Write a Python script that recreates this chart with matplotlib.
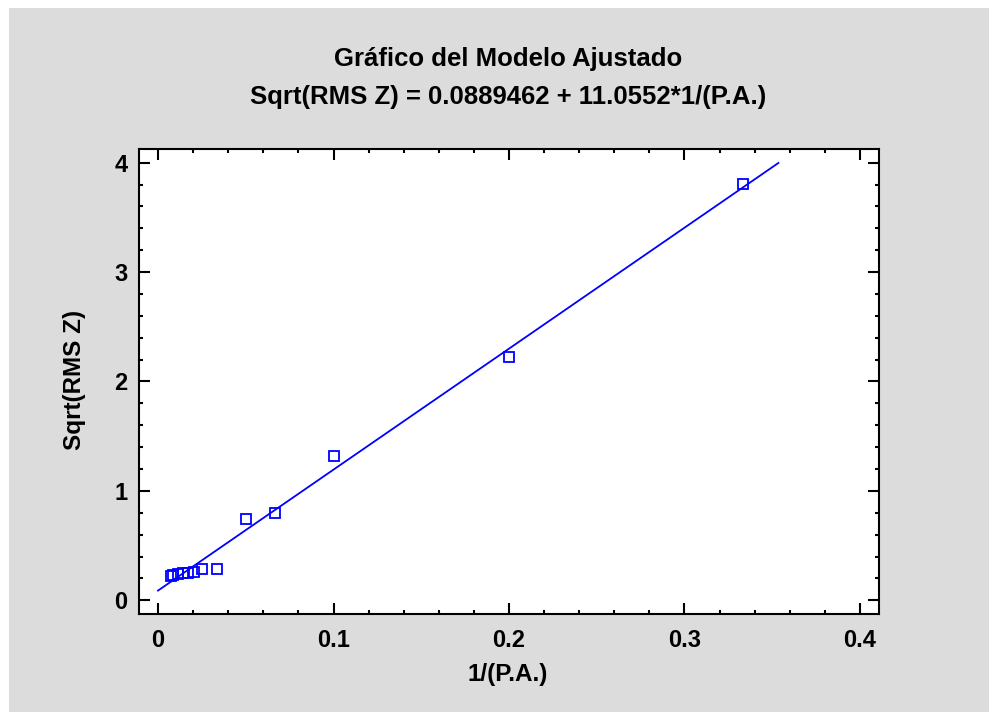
import matplotlib
matplotlib.use("Agg")
import matplotlib.pyplot as plt
from matplotlib.patches import Rectangle
from matplotlib.ticker import MultipleLocator
import numpy as np

# Data
x_obs = [0.3333, 0.2000, 0.1000, 0.0667, 0.0500, 0.0335, 0.0249, 0.0207,
         0.0173, 0.0144, 0.0114, 0.0087, 0.0072]
y_obs = [3.805, 2.224, 1.321, 0.800, 0.745, 0.289, 0.289, 0.256,
         0.247, 0.247, 0.240, 0.232, 0.222]
intercept = 0.0889462
slope = 11.0552
fit_x_range = [0.0, 0.3535]

title1 = "Gráfico del Modelo Ajustado"
title2 = "Sqrt(RMS Z) = 0.0889462 + 11.0552*1/(P.A.)"
xlabel = "1/(P.A.)"
ylabel = "Sqrt(RMS Z)"
xticks = [0, 0.1, 0.2, 0.3, 0.4]
xticklabels = ["0", "0.1", "0.2", "0.3", "0.4"]
yticks = [0, 1, 2, 3, 4]

plt.rcParams['font.family'] = ['Liberation Sans', 'DejaVu Sans']
plt.rcParams['font.weight'] = 'bold'

W, H = 989, 712
fig = plt.figure(figsize=(W / 100, H / 100), dpi=100)
fig.patch.set_facecolor('white')
bg = Rectangle((9 / W, 0), 1 - 9 / W, 1 - 8 / H, transform=fig.transFigure,
               facecolor='#dcdcdc', edgecolor='none', zorder=-10)
fig.patches.append(bg)

ax = fig.add_axes([138.7 / W, 98 / H, (879.3 - 138.7) / W, (614 - 149.3) / H])
ax.set_facecolor('white')

fx = np.linspace(fit_x_range[0], fit_x_range[1], 2)
ax.plot(fx, intercept + slope * fx, color='#0000ff', lw=1.3, zorder=2)
ax.plot(x_obs, y_obs, linestyle='none', marker='s', markersize=7.5,
        markerfacecolor='none', markeredgecolor='#0000ff', markeredgewidth=1.3,
        zorder=3)

ax.set_xlim(-0.011, 0.411)
ax.set_ylim(-0.125, 4.122)
ax.set_xticks(xticks)
ax.set_xticklabels(xticklabels)
ax.set_yticks(yticks)
ax.xaxis.set_minor_locator(MultipleLocator(0.02))
ax.yaxis.set_minor_locator(MultipleLocator(0.2))
ax.tick_params(which='both', direction='in', top=True, right=True, color='black', width=1.5)
ax.tick_params(which='major', length=8, labelsize=17)
ax.tick_params(axis='x', which='major', pad=11)
ax.tick_params(axis='y', which='major', pad=8)
ax.tick_params(which='minor', length=3)
for lab in ax.get_xticklabels() + ax.get_yticklabels():
    lab.set_fontweight('bold')
for s in ax.spines.values():
    s.set_linewidth(1.5)
    s.set_color('black')

fig.text(508 / W, (H - 675) / H, xlabel, ha='center', va='center',
         fontsize=17.5, fontweight='bold')
fig.text(75 / W, (H - 380) / H, ylabel, ha='center', va='center',
         rotation=90, fontsize=17.5, fontweight='bold')

fig.text(508.5 / W, (H - 59) / H, title1, ha='center', va='center', fontsize=18.5, fontweight='bold')
fig.text(508.5 / W, (H - 97) / H, title2, ha='center', va='center', fontsize=18.5, fontweight='bold')

fig.savefig('out.png', dpi=100)
